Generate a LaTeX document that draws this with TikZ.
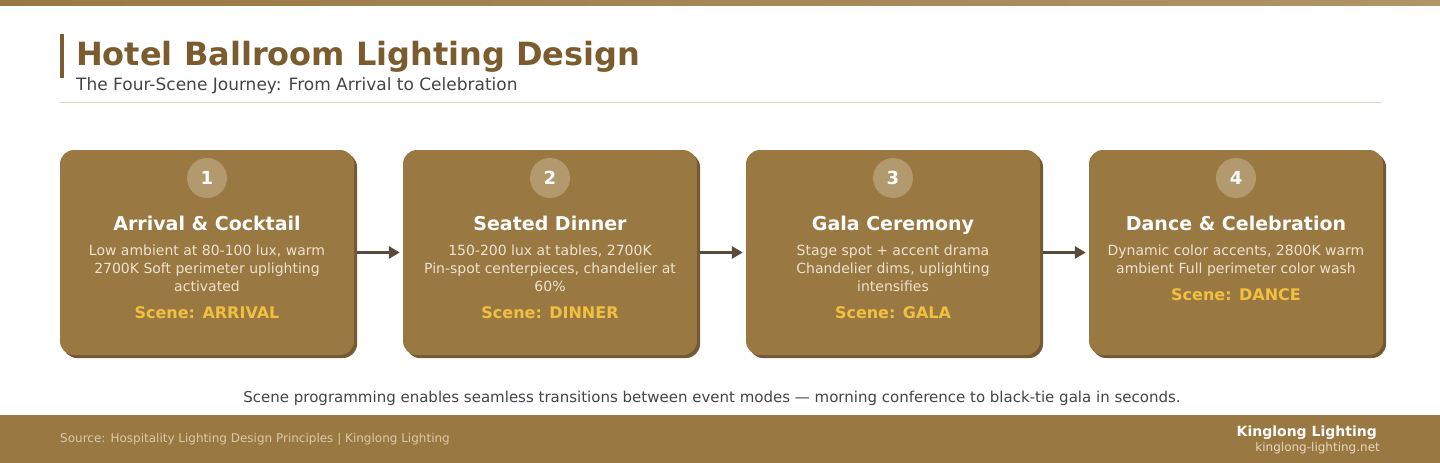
\documentclass[tikz,border=0pt]{standalone}
\usepackage{fontspec}
\setmainfont{DejaVu Sans}
\usetikzlibrary{positioning,shadows,arrows.meta}
\definecolor{barbrown}{HTML}{9A7842}
\definecolor{barlight}{HTML}{B09568}
\definecolor{titlebrown}{HTML}{7A5C2E}
\definecolor{cardshade}{HTML}{735A35}
\definecolor{badgetan}{HTML}{B39A6E}
\definecolor{desctext}{HTML}{EDE2CF}
\definecolor{scenegold}{HTML}{F0C040}
\definecolor{flowgray}{HTML}{5A4A3A}
\definecolor{inkgray}{HTML}{444444}
\definecolor{rulecolor}{HTML}{DDD3C3}
\definecolor{foottext}{HTML}{D9C9A9}
\definecolor{footlink}{HTML}{E6D8BE}
\begin{document}
\begin{tikzpicture}
	[x=1pt,y=-1pt,
	card/.style={fill=barbrown,rounded corners=14pt,minimum width=294pt,minimum height=205pt,
		drop shadow={shadow xshift=3pt,shadow yshift=-3pt,opacity=1,fill=cardshade}},
	badge/.style={circle,fill=badgetan,minimum size=40pt,inner sep=0pt,text=white,
		font=\fontsize{18}{18}\selectfont\bfseries},
	scenetitle/.style={anchor=base,inner sep=0pt,text height=14pt,text depth=4pt,text=white,
		font=\fontsize{19}{19}\selectfont\bfseries},
	scenetext/.style={inner sep=0pt,align=center,text=desctext,font=\fontsize{14}{18}\selectfont,
		execute at begin node=\strut,execute at end node=\strut},
	scenetag/.style={inner sep=0pt,text height=11.7pt,text depth=0pt,text=scenegold,
		font=\fontsize{16}{16}\selectfont\bfseries},
	flow/.style={draw=flowgray,line width=3pt,shorten <=3pt,shorten >=3pt,
		-{Triangle[length=11pt,width=12pt]}}]
	\useasboundingbox (0,0) rectangle (1440,463);
	\shade[left color=barbrown,right color=barlight] (0,0) rectangle (1440,5);
	\fill[titlebrown] (60,34) rectangle (64,78);
	\node[anchor=base west,inner sep=0pt,text=titlebrown,font=\fontsize{32}{32}\selectfont\bfseries] (title) at (76,65) {Hotel Ballroom Lighting Design};
	\node[anchor=base west,inner sep=0pt,text=inkgray,font=\fontsize{17}{17}\selectfont] (subtitle) at (76,90) {The Four-Scene Journey: From Arrival to Celebration};
	\draw[rulecolor,line width=1pt] (60,102) -- (1381,102);

	\node[card] (c1) at (207,252.5) {};
	\node[badge] (n1) at (207,178) {1};
	\node[scenetitle] (t1) at (207,230) {Arrival \& Cocktail};
	\node[scenetext,below=10pt of t1] (d1) {Low ambient at 80-100 lux, warm\\2700K Soft perimeter uplighting\\activated};
	\node[scenetag,below=10pt of d1] (s1) {Scene: ARRIVAL};

	\node[card] (c2) at (550,252.5) {};
	\node[badge] (n2) at (550,178) {2};
	\node[scenetitle] (t2) at (550,230) {Seated Dinner};
	\node[scenetext,below=10pt of t2] (d2) {150-200 lux at tables, 2700K\\Pin-spot centerpieces, chandelier at\\60\%};
	\node[scenetag,below=10pt of d2] (s2) {Scene: DINNER};

	\node[card] (c3) at (893,252.5) {};
	\node[badge] (n3) at (893,178) {3};
	\node[scenetitle] (t3) at (893,230) {Gala Ceremony};
	\node[scenetext,below=10pt of t3] (d3) {Stage spot + accent drama\\Chandelier dims, uplighting\\intensifies};
	\node[scenetag,below=10pt of d3] (s3) {Scene: GALA};

	\node[card] (c4) at (1236,252.5) {};
	\node[badge] (n4) at (1236,178) {4};
	\node[scenetitle] (t4) at (1236,230) {Dance \& Celebration};
	\node[scenetext,below=10pt of t4] (d4) {Dynamic color accents, 2800K warm\\ambient Full perimeter color wash};
	\node[scenetag,below=10pt of d4] (s4) {Scene: DANCE};

	\draw[flow] (c1.east) -- (c2.west);
	\draw[flow] (c2.east) -- (c3.west);
	\draw[flow] (c3.east) -- (c4.west);

	\node[inner sep=0pt,text=inkgray,font=\fontsize{15}{15}\selectfont] (note) at (712,398) {Scene programming enables seamless transitions between event modes — morning conference to black-tie gala in seconds.};

	\fill[barbrown] (0,415) rectangle (1440,463);
	\node[anchor=west,inner sep=0pt,text=foottext,font=\fontsize{12}{12}\selectfont] (source) at (60,439) {Source: Hospitality Lighting Design Principles | Kinglong Lighting};
	\node[anchor=east,inner sep=0pt,text=white,font=\fontsize{14}{14}\selectfont\bfseries] (brand) at (1377,433) {Kinglong Lighting};
	\node[anchor=east,inner sep=0pt,text=footlink,font=\fontsize{12}{12}\selectfont] (site) at (1380,448) {kinglong-lighting.net};
\end{tikzpicture}
\end{document}
